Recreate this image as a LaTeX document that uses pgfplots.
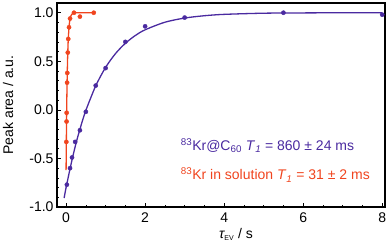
\documentclass[border=0pt]{standalone}
\usepackage{pgfplots}
\pgfplotsset{compat=1.18}
\usepackage{fontspec}
\setmainfont{Liberation Sans}
\definecolor{kblue}{RGB}{74,42,160}
\definecolor{kred}{RGB}{240,68,30}
\begin{document}
\begin{tikzpicture}
\begin{axis}[
  scale only axis,
  width=328pt, height=204pt,
  xmin=-0.23, xmax=8.07,
  ymin=-1.0, ymax=1.1,
  axis line style={line width=1.1pt},
  tick align=inside,
  xtick pos=bottom, ytick pos=left,
  xtick={0,2,4,6,8},
  minor xtick={0.5,1,1.5,2.5,3,3.5,4.5,5,5.5,6.5,7,7.5},
  ytick={-1,-0.5,0,0.5,1},
  minor ytick={-0.9,-0.8,-0.7,-0.6,-0.4,-0.3,-0.2,-0.1,0.1,0.2,0.3,0.4,0.6,0.7,0.8,0.9},
  major tick length=4pt, minor tick length=2.5pt,
  every tick/.style={black, line width=0.6pt},
  /pgf/number format/assume math mode=true,
  yticklabel style={/pgf/number format/.cd, fixed, fixed zerofill, precision=1},
  ticklabel style={font=\fontsize{14}{16}\selectfont},
  xticklabel style={yshift=-2.5pt},
  label style={font=\fontsize{14}{16}\selectfont},
  ylabel={Peak area / a.u.},
  ylabel style={at={(axis description cs:-0.149,0.5)}, anchor=center},
  xlabel={{\itshape τ}\textsubscript{\fontsize{7}{8}\selectfont EV} / s},
  xlabel style={at={(axis cs:4.3,-1.0)}, anchor=north, yshift=-18pt},
  clip=false,
]
% blue fit curve
\addplot[kblue, line width=1.3pt, smooth, no marks] coordinates {
 (-0.05,-0.908) (0,-0.80) (0.125,-0.56) (0.25,-0.346) (0.375,-0.165) (0.5,-0.006)
 (0.75,0.247) (1.0,0.437) (1.25,0.579) (1.5,0.685) (1.75,0.765) (2.0,0.824)
 (2.5,0.902) (3.0,0.945) (3.5,0.969) (4.0,0.983) (5.0,0.995) (6.0,0.998)
 (7.0,0.9995) (8.0,1.0)
};
% blue data
\addplot[kblue, only marks, mark=*, mark size=2.1pt] coordinates {
 (0.02,-0.77) (0.1,-0.60) (0.15,-0.49) (0.23,-0.33) (0.35,-0.21) (0.5,-0.02)
 (0.75,0.25) (1.0,0.43) (1.5,0.70) (2.0,0.86) (3.0,0.95) (5.5,1.0) (8.0,0.98)
};
% red fit curve
\addplot[kred, line width=1.3pt, smooth, no marks] coordinates {
 (0,-0.62) (0.005,-0.379) (0.01,-0.173) (0.015,0.001) (0.02,0.150) (0.03,0.384)
 (0.04,0.554) (0.05,0.677) (0.06,0.766) (0.08,0.877) (0.1,0.936) (0.12,0.966)
 (0.15,0.987) (0.2,0.997) (0.3,1.0) (0.7,1.0)
};
% red data
\addplot[kred, only marks, mark=*, mark size=2.1pt] coordinates {
 (0.006,-0.33) (0.012,-0.12) (0.014,-0.03) (0.025,0.28) (0.03,0.38) (0.043,0.59)
 (0.055,0.73) (0.074,0.85) (0.1,0.94) (0.2,1.0) (0.35,0.96) (0.7,1.0)
};
\node[anchor=west, text=kblue, font=\fontsize{14}{16}\selectfont, inner sep=0pt] at (axis cs:2.9,-0.37)
  {\textsuperscript{83}Kr@C\textsubscript{60} \textit{T}\textsubscript{\textit{1}} = 860 ± 24 ms};
\node[anchor=west, text=kred, font=\fontsize{14}{16}\selectfont, inner sep=0pt] at (axis cs:2.9,-0.67)
  {\textsuperscript{83}Kr in solution \textit{T}\textsubscript{\textit{1}} = 31 ± 2 ms};
\end{axis}
\pgfresetboundingbox
\path (-57pt,-40pt) rectangle (335pt,207pt);
\end{tikzpicture}
\end{document}
